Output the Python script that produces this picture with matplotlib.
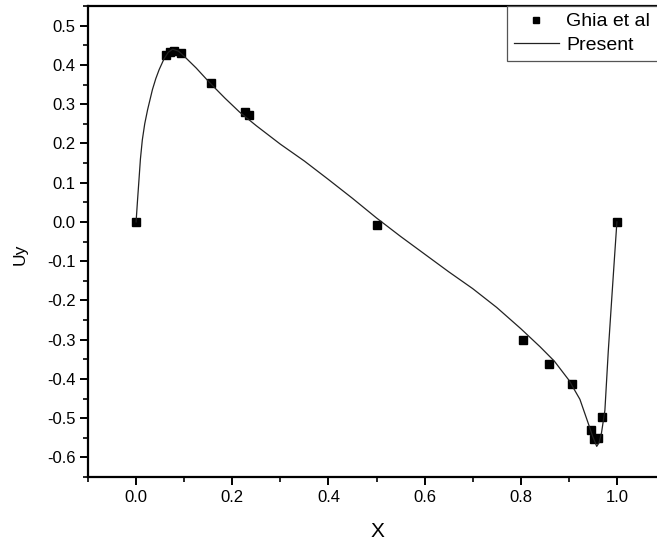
import matplotlib
matplotlib.use("Agg")
import matplotlib.pyplot as plt
from matplotlib.ticker import MultipleLocator

plt.rcParams['font.family'] = ['Liberation Sans', 'DejaVu Sans']

# Ghia et al (puntos de referencia)
ghia_x = [0.0, 0.0625, 0.0703, 0.0781, 0.0938, 0.1563, 0.2266, 0.2344, 0.5,
          0.8047, 0.8594, 0.9063, 0.9453, 0.9531, 0.9609, 0.9688, 1.0]
ghia_uy = [0.0, 0.424, 0.433, 0.436, 0.430, 0.354, 0.281, 0.273, -0.009,
           -0.300, -0.362, -0.414, -0.529, -0.554, -0.551, -0.498, 0.0]

# Solución presente
present_x = [0.0, 0.003, 0.006, 0.009, 0.013, 0.018, 0.024, 0.034, 0.041, 0.048,
             0.058, 0.067, 0.076, 0.088, 0.1, 0.125, 0.152, 0.185, 0.215, 0.25,
             0.3, 0.35, 0.4, 0.45, 0.5, 0.55, 0.6, 0.65, 0.7, 0.75,
             0.8, 0.84, 0.87, 0.9, 0.923, 0.94, 0.95, 0.958, 0.963, 0.968,
             0.975, 0.982, 0.989, 0.995, 1.0]
present_uy = [0.0, 0.055, 0.107, 0.16, 0.209, 0.25, 0.286, 0.337, 0.365, 0.388,
              0.415, 0.432, 0.44, 0.435, 0.422, 0.392, 0.356, 0.315, 0.280, 0.245,
              0.198, 0.155, 0.108, 0.060, 0.010, -0.037, -0.082, -0.127, -0.170, -0.218,
              -0.272, -0.318, -0.355, -0.403, -0.452, -0.512, -0.548, -0.572, -0.562, -0.537,
              -0.48, -0.33, -0.2, -0.09, 0.0]

W, H = 657, 546
fig = plt.figure(figsize=(W / 100, H / 100), dpi=100)
ax = fig.add_axes([88 / W, (H - 477) / H, (665 - 88) / W, (477 - 6) / H])

ax.plot(ghia_x, ghia_uy, 's', color='black', markersize=6.3, label='Ghia et al')
ax.plot(present_x, present_uy, '-', color='#222222', linewidth=0.9, label='Present')

ax.set_xlim(-0.1, 1.1)
ax.set_ylim(-0.65, 0.55)
ax.xaxis.set_major_locator(MultipleLocator(0.2))
ax.xaxis.set_minor_locator(MultipleLocator(0.1))
ax.yaxis.set_major_locator(MultipleLocator(0.1))
ax.yaxis.set_minor_locator(MultipleLocator(0.05))
fmt = plt.FuncFormatter(lambda v, p: f'{v:.1f}'.replace('-0.0', '0.0'))
ax.xaxis.set_major_formatter(fmt)
ax.yaxis.set_major_formatter(fmt)

for s in ['left', 'bottom', 'top']:
    ax.spines[s].set_linewidth(1.6)
ax.spines['right'].set_visible(False)
ax.tick_params(which='major', direction='out', length=6, width=1.4, labelsize=12, pad=3)
ax.tick_params(which='minor', direction='out', length=3.5, width=1.2)
ax.tick_params(top=False, right=False)

ax.set_xlabel('X', fontsize=15)
ax.set_ylabel('Uy', fontsize=12.5)
ax.xaxis.set_label_coords(289 / 577, -(522 - 477) / 471)
ax.yaxis.set_label_coords(-(88 - 28) / 577, (477 - 254) / 471)

leg = ax.legend(loc='upper left', bbox_to_anchor=(507 / W, 1 - 6 / H, 175 / W, 0),
                bbox_transform=fig.transFigure, mode='expand', fontsize=14,
                frameon=True, fancybox=False, framealpha=1, edgecolor='#555555',
                borderpad=0.35, labelspacing=0.3, handlelength=2.3,
                handletextpad=0.4, borderaxespad=0, markerscale=0.75)
leg.get_frame().set_linewidth(0.9)

fig.savefig('out.png', dpi=100)
